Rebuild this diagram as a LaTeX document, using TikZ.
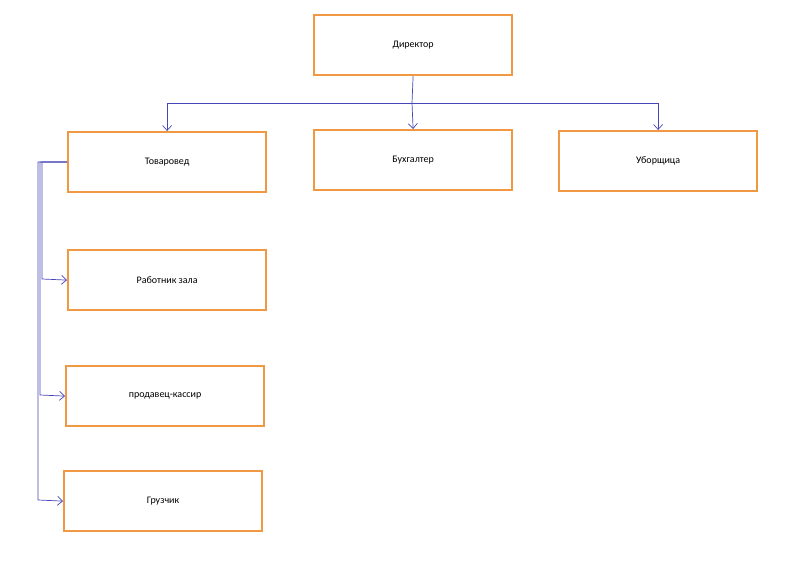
\documentclass[tikz,border=0pt]{standalone}
\usepackage{fontspec}
\setmainfont{Carlito}
\usetikzlibrary{arrows.meta}
\begin{document}
\begin{tikzpicture}[x=1pt,y=-1pt,
  box/.style={draw=orange!70!brown!80!white,line width=2.2pt,fill=white,minimum width=198pt,minimum height=60pt,font=\fontsize{10}{12}\selectfont,anchor=north west,inner sep=0pt},
  conn/.style={draw=blue!45!gray,line width=0.7pt,-{Straight Barb[length=5pt,width=9pt]}}]
\useasboundingbox[fill=white] (0,0) rectangle (800,564);
\node[box] (dir) at (313,14) {Директор};
\node[box] (tov) at (67,131) {Товаровед};
\node[box] (buh) at (313,129) {Бухгалтер};
\node[box] (ubo) at (558,130) {Уборщица};
\node[box] (rab) at (67,249) {Работник зала};
\node[box] (pro) at (65,365) {продавец-кассир};
\node[box] (gru) at (63,470) {Грузчик};
\coordinate (j) at (412,103);
\draw[draw=blue!45!gray,line width=0.7pt] (dir.south) -- (j);
\draw[conn] (j) -| (tov.north);
\draw[conn] (j) -- (buh.north);
\draw[conn] (j) -| (ubo.north);
\draw[conn] (tov.west) -| (42,279) -- (rab.west);
\draw[conn] (tov.west) -| (40,395) -- (pro.west);
\draw[conn] (tov.west) -| (38,500) -- (gru.west);
\end{tikzpicture}
\end{document}
